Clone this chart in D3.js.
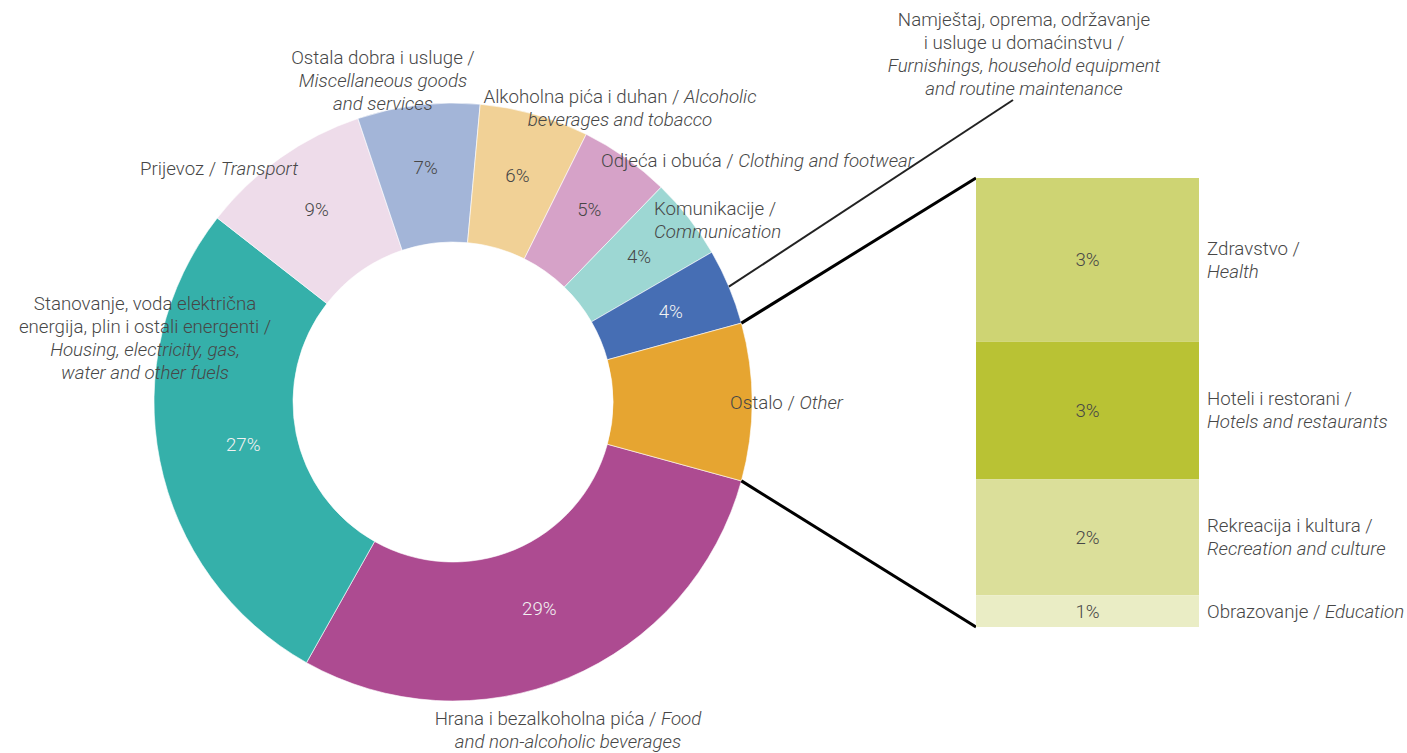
<!DOCTYPE html>
<html>
<head>
<meta charset="utf-8">
<script src="https://cdn.jsdelivr.net/npm/d3@7"></script>
<style>
  body { margin: 0; background: #fff; }
  text { font-family: Roboto, 'Open Sans', sans-serif; font-weight: 300; fill: #474747; font-size: 18.7px; }
</style>
</head>
<body>
<div id="chart-area"></div>
<script>
const WIDTH = 1407;
const HEIGHT = 753;
const CX = 453;
const CY = 402;
const R_OUT = 299;
const R_IN = 160;
const R_LABEL = 236;
const LINE_H = 23;

// pie, clockwise from food
const categories = ['food', 'housing', 'transport', 'misc', 'alcohol', 'clothing', 'communication', 'furnishings', 'other'];
const shares = [28.9, 27.4, 9.3, 6.6, 5.9, 4.9, 4.4, 4.1, 8.5];
const sliceColors = ['#ad4b91', '#35b0aa', '#eedcea', '#a3b5d8', '#f1d196', '#d6a2c8', '#9dd7d3', '#466eb4', '#e6a531'];
const whiteValue = ['food', 'housing', 'furnishings'];

// breakdown of "other"
const otherCategories = ['health', 'hotels', 'recreation', 'education'];
const otherShares = [3.1, 2.6, 2.2, 0.6];
const otherColors = ['#ced473', '#b9c234', '#dbdf9a', '#eaedc5'];

// label text, _italic_ parts
const pieLabels = {
  food: ['Hrana i bezalkoholna pića / _Food_', '_and non-alcoholic beverages_'],
  housing: ['Stanovanje, voda električna', 'energija, plin i ostali energenti /', '_Housing, electricity, gas,_', '_water and other fuels_'],
  transport: ['Prijevoz / _Transport_'],
  misc: ['Ostala dobra i usluge /', '_Miscellaneous goods_', '_and services_'],
  alcohol: ['Alkoholna pića i duhan / _Alcoholic_', '_beverages and tobacco_'],
  clothing: ['Odjeća i obuća / _Clothing and footwear_'],
  communication: ['Komunikacije /', '_Communication_'],
  furnishings: ['Namještaj, oprema, održavanje', 'i usluge u domaćinstvu /', '_Furnishings, household equipment_', '_and routine maintenance_'],
  other: ['Ostalo / _Other_'],
};
const otherLabels = {
  health: ['Zdravstvo /', '_Health_'],
  hotels: ['Hoteli i restorani /', '_Hotels and restaurants_'],
  recreation: ['Rekreacija i kultura /', '_Recreation and culture_'],
  education: ['Obrazovanje / _Education_'],
};

// where the pie labels sit
const pieLabelPos = {
  food: [568, 718, 'middle'],
  housing: [145, 303, 'middle'],
  transport: [219, 168, 'middle'],
  misc: [383, 57, 'middle'],
  alcohol: [620, 96, 'middle'],
  clothing: [601, 160, 'start'],
  communication: [654, 208, 'start'],
  furnishings: [1024, 19, 'middle'],
  other: [730, 402, 'start'],
};
// the big slices have their value a bit further in
const valueRadius = { housing: 214, food: 224 };

const BAR_X = 976;
const BAR_W = 223;
const BAR_TOP = 178;
const BAR_BOTTOM = 627;

main();

function main() {
  const svg = d3.select('#chart-area').append('svg')
    .attr('width', WIDTH)
    .attr('height', HEIGHT);
  drawPie(svg);
  drawBar(svg);
}

function writeLines(g, x, y, anchor, lines) {
  const t = g.append('text')
    .attr('text-anchor', anchor);
  lines.forEach((line, i) => {
    const parts = line.split('_');
    parts.forEach((p, j) => {
      if (!p) return;
      const s = t.append('tspan').text(p)
        .attr('font-style', j % 2 ? 'italic' : null);
      if (j === 0 || (j === 1 && !parts[0])) {
        s.attr('x', x).attr('y', y + i * LINE_H).attr('dy', '0.35em');
      }
    });
  });
  return t;
}

function drawPie(svg) {
  const data = categories.map((c, i) => ({ cat: c, value: shares[i], color: sliceColors[i] }));
  const otherShare = shares[categories.indexOf('other')] / d3.sum(shares);
  const start = Math.PI / 2 + otherShare * Math.PI;
  const pie = d3.pie().sort(null).value(d => d.value)
    .startAngle(start).endAngle(start + 2 * Math.PI);
  const arcs = pie(data);
  const arc = d3.arc().innerRadius(R_IN).outerRadius(R_OUT);

  const g = svg.append('g').attr('transform', `translate(${CX}, ${CY})`);
  g.selectAll('path')
    .data(arcs)
    .enter()
    .append('path')
    .attr('d', arc)
    .attr('fill', d => d.data.color)
    .attr('stroke', '#fff')
    .attr('stroke-width', 0.6);

  g.selectAll('text.value')
    .data(arcs.filter(d => d.data.cat !== 'other'))
    .enter()
    .append('text')
    .attr('class', 'value')
    .attr('transform', d => {
      const a = (d.startAngle + d.endAngle) / 2;
      const r = valueRadius[d.data.cat] || R_LABEL;
      return `translate(${Math.sin(a) * r}, ${-Math.cos(a) * r})`;
    })
    .attr('text-anchor', 'middle')
    .attr('dy', '0.35em')
    .style('fill', d => whiteValue.includes(d.data.cat) ? '#f2f2f2' : '#474747')
    .text(d => `${Math.round(d.data.value)}%`);

  categories.forEach(c => {
    const [x, y, anchor] = pieLabelPos[c];
    writeLines(svg, x, y, anchor, pieLabels[c]);
  });

  // pointer for furnishings
  const furn = arcs.find(d => d.data.cat === 'furnishings');
  const fa = (furn.startAngle + furn.endAngle) / 2;
  svg.append('line')
    .attr('x1', CX + Math.sin(fa) * R_OUT)
    .attr('y1', CY - Math.cos(fa) * R_OUT)
    .attr('x2', 1013)
    .attr('y2', 100)
    .attr('stroke', '#222')
    .attr('stroke-width', 2);

  // connectors to the bar
  const oth = arcs.find(d => d.data.cat === 'other');
  [[oth.startAngle, BAR_TOP], [oth.endAngle, BAR_BOTTOM]].forEach(([a, y]) => {
    svg.append('line')
      .attr('x1', CX + Math.sin(a) * R_OUT)
      .attr('y1', CY - Math.cos(a) * R_OUT)
      .attr('x2', BAR_X)
      .attr('y2', y)
      .attr('stroke', '#000')
      .attr('stroke-width', 3);
  });
}

function drawBar(svg) {
  let acc = 0;
  const data = otherCategories.map((c, i) => {
    const d = { cat: c, value: otherShares[i], y0: acc, color: otherColors[i] };
    acc += otherShares[i];
    d.y1 = acc;
    return d;
  });
  const scaleY = d3.scaleLinear()
    .domain([0, d3.sum(otherShares)])
    .range([BAR_TOP, BAR_BOTTOM]);

  const g = svg.append('g');
  g.selectAll('rect')
    .data(data)
    .enter()
    .append('rect')
    .attr('x', BAR_X)
    .attr('y', d => scaleY(d.y0))
    .attr('width', BAR_W)
    .attr('height', d => scaleY(d.y1) - scaleY(d.y0))
    .attr('fill', d => d.color);

  g.selectAll('text.value')
    .data(data)
    .enter()
    .append('text')
    .attr('class', 'value')
    .attr('x', BAR_X + BAR_W / 2)
    .attr('y', d => (scaleY(d.y0) + scaleY(d.y1)) / 2)
    .attr('dy', '0.35em')
    .attr('text-anchor', 'middle')
    .text(d => `${Math.round(d.value)}%`);

  data.forEach(d => {
    const lines = otherLabels[d.cat];
    const mid = (scaleY(d.y0) + scaleY(d.y1)) / 2;
    writeLines(g, BAR_X + BAR_W + 8, mid - (lines.length - 1) * LINE_H / 2, 'start', lines);
  });
}
</script>
</body>
</html>
